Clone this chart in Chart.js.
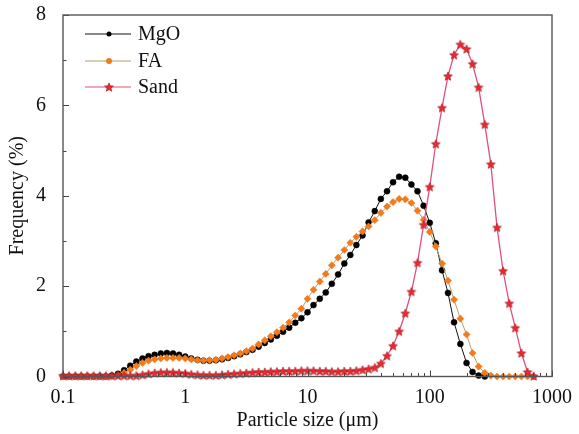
<!DOCTYPE html>
<html>
<head>
<meta charset="utf-8">
<script src="https://cdn.jsdelivr.net/npm/chart.js@4"></script>
<style>
html, body { margin: 0; padding: 0; background: #fff; }
canvas { display: block; }
</style>
</head>
<body>
<canvas id="psdChart" width="579" height="434"></canvas>
<script>
// particle size classes (um)
const sizes = [0.1, 0.112, 0.126, 0.141, 0.158, 0.178, 0.2, 0.224, 0.251, 0.282,
    0.316, 0.355, 0.398, 0.447, 0.501, 0.562, 0.631, 0.708, 0.794, 0.891,
    1, 1.12, 1.26, 1.41, 1.58, 1.78, 2, 2.24, 2.51, 2.82,
    3.16, 3.55, 3.98, 4.47, 5.01, 5.62, 6.31, 7.08, 7.94, 8.91,
    10, 11.2, 12.6, 14.1, 15.8, 17.8, 20, 22.4, 25.1, 28.2,
    31.6, 35.5, 39.8, 44.7, 50.1, 56.2, 63.1, 70.8, 79.4, 89.1,
    100, 112, 126, 141, 158, 178, 200, 224, 251, 282,
    316, 355, 398, 447, 501, 562, 631, 708];

const mgo = [0, 0, 0, 0, 0, 0, 0, 0, 0.02, 0.06,
    0.14, 0.24, 0.33, 0.40, 0.45, 0.48, 0.51, 0.52, 0.51, 0.48,
    0.44, 0.40, 0.37, 0.35, 0.35, 0.36, 0.38, 0.41, 0.45, 0.49,
    0.54, 0.59, 0.66, 0.74, 0.82, 0.90, 0.99, 1.08, 1.19, 1.29,
    1.42, 1.58, 1.72, 1.86, 2.05, 2.26, 2.50, 2.69, 2.91, 3.12,
    3.41, 3.66, 3.93, 4.10, 4.30, 4.42, 4.40, 4.25, 4.10, 3.78,
    3.40, 2.95, 2.35, 1.85, 1.20, 0.72, 0.30, 0.10, 0.02, 0];

const fa = [0, 0, 0, 0, 0, 0, 0, 0, 0, 0.03,
    0.08, 0.15, 0.23, 0.30, 0.35, 0.38, 0.40, 0.41, 0.41, 0.41,
    0.40, 0.38, 0.36, 0.355, 0.36, 0.37, 0.40, 0.43, 0.47, 0.51,
    0.56, 0.62, 0.71, 0.80, 0.89, 0.98, 1.08, 1.20, 1.35, 1.50,
    1.72, 1.92, 2.10, 2.27, 2.46, 2.63, 2.80, 2.96, 3.09, 3.21,
    3.32, 3.46, 3.62, 3.76, 3.86, 3.93, 3.92, 3.84, 3.67, 3.47,
    3.20, 2.88, 2.50, 2.12, 1.70, 1.28, 0.93, 0.52, 0.22, 0.08,
    0.02, 0, 0, 0, 0, 0, 0, 0];

const sand = [0.02, 0.02, 0.02, 0.02, 0.02, 0.02, 0.02, 0.02, 0.02, 0.02,
    0.02, 0.02, 0.02, 0.04, 0.06, 0.08, 0.09, 0.09, 0.09, 0.08,
    0.07, 0.05, 0.04, 0.03, 0.03, 0.03, 0.04, 0.05, 0.06, 0.07,
    0.08, 0.09, 0.10, 0.10, 0.11, 0.11, 0.12, 0.12, 0.12, 0.13,
    0.13, 0.13, 0.12, 0.12, 0.11, 0.11, 0.12, 0.12, 0.13, 0.15,
    0.17, 0.20, 0.29, 0.46, 0.68, 1.00, 1.40, 1.88, 2.52, 3.36,
    4.20, 5.15, 5.95, 6.65, 7.12, 7.35, 7.25, 6.92, 6.40, 5.58,
    4.70, 3.30, 2.34, 1.62, 1.08, 0.52, 0.10, 0.01];

const seriesNames = ['MgO', 'FA', 'Sand'];
const xTicks = [0.1, 1, 10, 100, 1000];
const yMajor = [0, 2, 4, 6, 8];
const yMinor = [1, 3, 5, 7];

const serif = '"Liberation Serif", "Times New Roman", serif';

function makeStar(r) {
    const c = document.createElement('canvas');
    const s = Math.ceil(r * 2 + 2);
    c.width = s;
    c.height = s;
    const g = c.getContext('2d');
    g.beginPath();
    for (let k = 0; k < 10; k++) {
        const rad = k % 2 === 0 ? r : r * 0.45;
        const a = -Math.PI / 2 + k * Math.PI / 5;
        const px = s / 2 + rad * Math.cos(a);
        const py = s / 2 + rad * Math.sin(a) + 0.5;
        if (k === 0) g.moveTo(px, py); else g.lineTo(px, py);
    }
    g.closePath();
    g.fillStyle = '#ec2a2e';
    g.fill();
    g.strokeStyle = '#a81e2a';
    g.lineWidth = 0.7;
    g.stroke();
    return c;
}
const starImg = makeStar(4.6);

function toPoints(vals) {
    return vals.map((v, i) => ({ x: sizes[i], y: v }));
}

const styles = [
    { line: '#111111', fill: '#000000', shape: 'circle', radius: 3 },
    { line: '#b0a070', fill: '#f27a1c', shape: 'rectRot', radius: 3.6 },
    { line: '#e0507a', fill: '#ec2a2e', shape: starImg, radius: 5 }
];

// inside tick marks, frame and legend
const decorations = {
    id: 'decorations',
    afterDatasetsDraw(chart) {
        const { ctx, chartArea: a, scales: { x, y } } = chart;
        ctx.save();
        ctx.strokeStyle = '#444';
        ctx.lineWidth = 1;
        ctx.beginPath();
        xTicks.forEach(v => {
            const px = Math.round(x.getPixelForValue(v)) + 0.5;
            ctx.moveTo(px, a.bottom);
            ctx.lineTo(px, a.bottom - 6);
        });
        for (let d = 0.1; d < 1000; d *= 10) {
            for (let m = 2; m <= 9; m++) {
                const px = Math.round(x.getPixelForValue(d * m)) + 0.5;
                ctx.moveTo(px, a.bottom);
                ctx.lineTo(px, a.bottom - 3.5);
            }
        }
        yMajor.forEach(v => {
            const py = Math.round(y.getPixelForValue(v)) + 0.5;
            ctx.moveTo(a.left, py);
            ctx.lineTo(a.left + 6, py);
        });
        yMinor.forEach(v => {
            const py = Math.round(y.getPixelForValue(v)) + 0.5;
            ctx.moveTo(a.left, py);
            ctx.lineTo(a.left + 3.5, py);
        });
        ctx.stroke();

        ctx.strokeStyle = '#555';
        ctx.lineWidth = 1.4;
        ctx.strokeRect(a.left, a.top, a.right - a.left, a.bottom - a.top);

        // legend
        const rows = [19, 46, 72];
        ctx.font = '20px ' + serif;
        ctx.textBaseline = 'middle';
        ctx.fillStyle = '#111';
        seriesNames.forEach((name, i) => {
            const st = styles[i];
            const yy = a.top + rows[i];
            ctx.strokeStyle = st.line;
            ctx.lineWidth = 1.2;
            ctx.beginPath();
            ctx.moveTo(a.left + 22, yy);
            ctx.lineTo(a.left + 68, yy);
            ctx.stroke();
            const cx = a.left + 46;
            if (st.shape === 'circle') {
                ctx.fillStyle = st.fill;
                ctx.beginPath();
                ctx.arc(cx, yy, 2.5, 0, Math.PI * 2);
                ctx.fill();
            } else if (st.shape === 'rectRot') {
                ctx.fillStyle = st.fill;
                ctx.beginPath();
                ctx.arc(cx, yy, 3, 0, Math.PI * 2);
                ctx.fill();
            } else {
                ctx.drawImage(st.shape, cx - st.shape.width / 2, yy - st.shape.height / 2);
            }
            ctx.fillStyle = '#111';
            ctx.fillText(name, a.left + 75, yy + 1);
        });
        ctx.restore();
    }
};

const ctx = document.getElementById('psdChart').getContext('2d');
new Chart(ctx, {
    type: 'line',
    data: {
        datasets: [mgo, fa, sand].map((vals, i) => ({
            label: seriesNames[i],
            data: toPoints(vals),
            borderColor: styles[i].line,
            borderWidth: i === 2 ? 1.3 : 1,
            backgroundColor: styles[i].fill,
            pointStyle: styles[i].shape,
            pointRadius: styles[i].radius,
            pointBackgroundColor: styles[i].fill,
            pointBorderColor: styles[i].fill,
            pointBorderWidth: 0.5,
            tension: 0,
            fill: false,
            clip: 8,
            order: 2 - i,
        }))
    },
    options: {
        responsive: false,
        animation: false,
        layout: { padding: { top: 13, right: 27, left: 0, bottom: 0 } },
        plugins: {
            legend: { display: false },
            tooltip: { enabled: false }
        },
        scales: {
            x: {
                type: 'logarithmic',
                min: 0.1,
                max: 1000,
                grid: { display: false },
                border: { display: false },
                afterBuildTicks: scale => {
                    scale.ticks = xTicks.map(v => ({ value: v }));
                },
                afterFit: scale => { scale.height = 57.5; },
                ticks: {
                    autoSkip: false,
                    maxRotation: 0,
                    padding: 3,
                    color: '#111',
                    font: { family: serif, size: 20, lineHeight: 1 },
                    callback: v => String(v)
                },
                title: {
                    display: true,
                    text: 'Particle size (μm)',
                    color: '#111',
                    font: { family: serif, size: 20 },
                    padding: { top: 0, bottom: 1 }
                }
            },
            y: {
                min: 0,
                max: 8,
                grid: { display: false },
                border: { display: false },
                afterBuildTicks: scale => {
                    scale.ticks = yMajor.map(v => ({ value: v }));
                },
                afterFit: scale => { scale.width = 63; },
                ticks: {
                    padding: 9,
                    color: '#111',
                    font: { family: serif, size: 20, lineHeight: 0.6 }
                },
                title: {
                    display: true,
                    text: 'Frequency (%)',
                    color: '#111',
                    font: { family: serif, size: 20 },
                    padding: { top: 6, bottom: 0 }
                }
            }
        }
    },
    plugins: [decorations]
});
</script>
</body>
</html>
